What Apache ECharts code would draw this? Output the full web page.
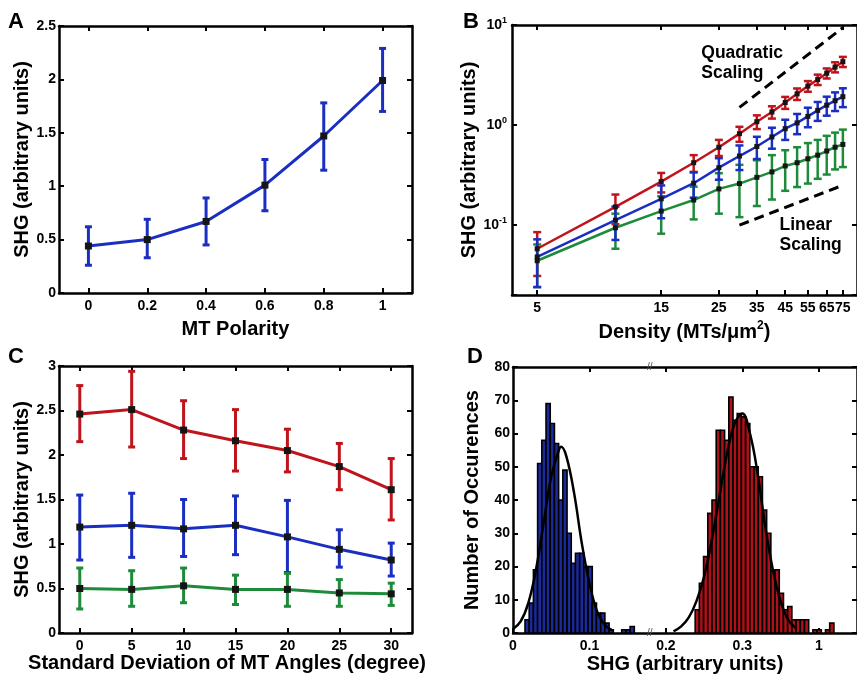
<!DOCTYPE html>
<html><head><meta charset="utf-8">
<script src="https://cdn.jsdelivr.net/npm/echarts@6/dist/echarts.min.js"></script>
<style>html,body{margin:0;padding:0;background:#fff}#c{width:857px;height:675px}</style>
</head><body><div id="c"></div><script>
// ---------- Panel A: SHG vs MT polarity ----------
const polarity = [0, 0.2, 0.4, 0.6, 0.8, 1];
const polarityShg = [0.44, 0.50, 0.67, 1.01, 1.47, 1.99];
const polarityLow = [0.26, 0.33, 0.45, 0.77, 1.15, 1.70];
const polarityHigh = [0.62, 0.69, 0.89, 1.25, 1.78, 2.29];
const polarityTicks = [0, 0.2, 0.4, 0.6, 0.8, 1];

// ---------- Panel B: SHG vs density (log-log) ----------
const density = [5, 10, 15, 20, 25, 30, 35, 40, 45, 50, 55, 60, 65, 70, 75];
const densityRed = [0.058, 0.152, 0.272, 0.42, 0.60, 0.82, 1.08, 1.35, 1.68, 2.05, 2.45, 2.85, 3.3, 3.8, 4.3];
const densityRedErr = [0.027, 0.05, 0.06, 0.08, 0.11, 0.14, 0.17, 0.19, 0.23, 0.27, 0.30, 0.34, 0.38, 0.44, 0.50];
const densityBlue = [0.048, 0.112, 0.183, 0.262, 0.375, 0.49, 0.61, 0.76, 0.92, 1.05, 1.22, 1.40, 1.58, 1.75, 1.92];
const densityBlueErr = [0.024, 0.041, 0.066, 0.074, 0.091, 0.135, 0.153, 0.18, 0.21, 0.24, 0.27, 0.30, 0.34, 0.37, 0.41];
const densityGreen = [0.044, 0.094, 0.138, 0.178, 0.23, 0.26, 0.30, 0.34, 0.39, 0.42, 0.46, 0.50, 0.55, 0.60, 0.64];
const densityGreenErr = [0.02, 0.036, 0.056, 0.064, 0.10, 0.14, 0.145, 0.16, 0.17, 0.18, 0.20, 0.21, 0.23, 0.24, 0.26];
const densityTicks = [5, 15, 25, 35, 45, 55, 65, 75];
const quadraticGuide = [[30, 1.5], [75, 9.4]];
const linearGuide = [[30, 0.1], [75, 0.25]];
const guideTexts = ['Quadratic\nScaling', 'Linear\nScaling'];
const guideTextAt = [[21.4, 6.6], [42.8, 0.126]];

// ---------- Panel C: SHG vs angle spread ----------
const angles = [0, 5, 10, 15, 20, 25, 30];
const angleRed = [2.46, 2.51, 2.28, 2.16, 2.05, 1.87, 1.61];
const angleRedLow = [2.15, 2.09, 1.96, 1.82, 1.81, 1.61, 1.27];
const angleRedHigh = [2.78, 2.94, 2.61, 2.51, 2.29, 2.13, 1.96];
const angleBlue = [1.19, 1.21, 1.17, 1.21, 1.08, 0.94, 0.82];
const angleBlueLow = [0.82, 0.85, 0.86, 0.88, 0.68, 0.74, 0.64];
const angleBlueHigh = [1.55, 1.57, 1.50, 1.54, 1.49, 1.16, 1.01];
const angleGreen = [0.50, 0.49, 0.53, 0.49, 0.49, 0.45, 0.44];
const angleGreenLow = [0.27, 0.30, 0.34, 0.32, 0.30, 0.30, 0.31];
const angleGreenHigh = [0.73, 0.70, 0.73, 0.65, 0.67, 0.60, 0.56];
const angleTicks = [0, 5, 10, 15, 20, 25, 30];

// ---------- Panel D: histograms ----------
const binWidth = 0.0055;
const blueHistStart = 0.0157;
const blueHistCounts = [4, 9, 19, 51, 58, 69, 63, 57, 40, 49, 30, 21, 24, 24, 20, 20, 9, 6, 6, 3, 1, 0, 0, 1, 1, 2];
const redHistStart = 0.2383;
const redHistCounts = [7, 15, 23, 36, 40, 61, 61, 58, 71, 64, 66, 65, 63, 50, 50, 47, 37, 30, 19, 19, 12, 7, 8, 4, 4, 4, 4, 0, 1, 1, 0, 1, 3];
const blueFitX = [0, 0.01, 0.02, 0.03, 0.04, 0.05, 0.06, 0.063, 0.07, 0.08, 0.09, 0.10, 0.11, 0.12, 0.13];
const blueFitY = [1.2, 3.5, 9, 19, 33, 47, 55, 56, 53, 42, 27, 15, 6.5, 2.5, 0.8];
const redFitX = [0.21, 0.22, 0.23, 0.24, 0.25, 0.26, 0.27, 0.28, 0.29, 0.30, 0.31, 0.32, 0.33, 0.34, 0.35, 0.36, 0.37];
const redFitY = [0.5, 2, 4.7, 9.6, 17, 28, 41, 54, 63, 66, 60, 48, 32, 19, 9.6, 4, 1.5];
const shgTicks = [0, 0.1, 0.2, 0.3, 0.4];
const shgTickLabels = ['0', '0.1', '0.2', '0.3', '1'];
const breakMarks = [[0.179, 0], [0.179, 80]];

// ---------- styling ----------
const FONT = "'Liberation Sans', Arial, Helvetica, sans-serif";
const RED = '#C0141C', BLUE = '#1A2EC2', GREEN = '#1E8B3A';
const HRED = '#B01018', HBLUE = '#1A2A9A';
const lbl = {fontFamily: FONT, fontWeight: 'bold', fontSize: 14, color: '#000'};
const nm = {fontFamily: FONT, fontWeight: 'bold', fontSize: 20, color: '#000'};

function axis(o) {
  const a = {
    gridIndex: o.grid, type: o.type || 'value', position: o.position,
    min: o.min, max: o.max, interval: o.interval,
    axisLine: {show: true, onZero: false, lineStyle: {color: '#000', width: 2.5}},
    axisTick: {show: true, inside: true, length: 5, lineStyle: {color: '#000', width: 2}},
    axisLabel: Object.assign({show: !!o.labels, margin: o.margin || 6}, lbl),
    splitLine: {show: false}, minorTick: {show: false}, minorSplitLine: {show: false}
  };
  if (o.ticks) { a.axisTick.customValues = o.ticks; a.axisLabel.customValues = o.ticks; }
  if (o.formatter) a.axisLabel.formatter = o.formatter;
  if (o.rich) a.axisLabel.rich = o.rich;
  if (o.name) {
    a.name = o.name; a.nameLocation = 'middle'; a.nameGap = o.nameGap;
    a.nameTextStyle = Object.assign({}, nm, o.nameExtra || {});
  }
  return a;
}

const supRich = {
  b: {fontFamily: FONT, fontWeight: 'bold', fontSize: 14, lineHeight: 18, color: '#000'},
  s: {fontFamily: FONT, fontWeight: 'bold', fontSize: 9, lineHeight: 10, verticalAlign: 'top', color: '#000'}
};
function powLabel(v) {
  const e = Math.log10(v);
  if (Math.abs(e - Math.round(e)) > 1e-6) return '';
  return '{b|10}{s|' + Math.round(e) + '}';
}

const xAxes = [
  axis({grid: 0, min: -0.1, max: 1.1, ticks: polarityTicks, labels: true, name: 'MT Polarity', nameGap: 26}),
  axis({grid: 0, position: 'top', min: -0.1, max: 1.1, ticks: polarityTicks}),
  axis({grid: 1, type: 'log', min: 4, max: 85, ticks: densityTicks, labels: true, name: 'Density (MTs/μm{s|2})', nameGap: 25,
        nameExtra: {lineHeight: 24, rich: {s: {fontFamily: FONT, fontWeight: 'bold', fontSize: 12, lineHeight: 12, verticalAlign: 'top', color: '#000'}}}}),
  axis({grid: 1, type: 'log', position: 'top', min: 4, max: 85, ticks: densityTicks}),
  axis({grid: 2, min: -2, max: 32, ticks: angleTicks, labels: true, name: 'Standard Deviation of MT Angles (degree)', nameGap: 20,
        nameExtra: {padding: [0, 17, 0, 0]}}),
  axis({grid: 2, position: 'top', min: -2, max: 32, ticks: angleTicks}),
  axis({grid: 3, min: 0, max: 0.45, ticks: shgTicks, labels: true, formatter: (v) => shgTickLabels[shgTicks.indexOf(v)] || '',
        name: 'SHG (arbitrary units)', nameGap: 20}),
  axis({grid: 3, position: 'top', min: 0, max: 0.45, ticks: [0.1, 0.2, 0.3, 0.4]})
];
const yAxes = [
  axis({grid: 0, min: 0, max: 2.5, interval: 0.5, labels: true, margin: 3, name: 'SHG (arbitrary units)', nameGap: 22}),
  axis({grid: 0, position: 'right', min: 0, max: 2.5, interval: 0.5}),
  axis({grid: 1, type: 'log', min: 0.02, max: 10, labels: true, margin: 5, formatter: powLabel, rich: supRich, name: 'SHG (arbitrary units)', nameGap: 28}),
  axis({grid: 1, type: 'log', position: 'right', min: 0.02, max: 10, formatter: powLabel}),
  axis({grid: 2, min: 0, max: 3, interval: 0.5, labels: true, margin: 3, name: 'SHG (arbitrary units)', nameGap: 22}),
  axis({grid: 2, position: 'right', min: 0, max: 3, interval: 0.5}),
  axis({grid: 3, min: 0, max: 80, interval: 10, labels: true, margin: 3, name: 'Number of Occurences', nameGap: 31}),
  axis({grid: 3, position: 'right', min: 0, max: 80, interval: 10})
];

function errorSeries(ai, xs, lo, hi, color, cap, lw) {
  return {
    type: 'custom', xAxisIndex: ai, yAxisIndex: ai, z: 2, silent: true, animation: false,
    data: xs.map((x, i) => [x, lo[i], hi[i]]),
    encode: {x: 0, y: [1, 2]},
    renderItem: (params, api) => {
      const x = api.value(0);
      const a = api.coord([x, api.value(1)]);
      const b = api.coord([x, api.value(2)]);
      const st = {stroke: color, lineWidth: lw};
      return {type: 'group', children: [
        {type: 'line', shape: {x1: a[0], y1: a[1], x2: b[0], y2: b[1]}, style: st},
        {type: 'line', shape: {x1: a[0] - cap, y1: a[1], x2: a[0] + cap, y2: a[1]}, style: st},
        {type: 'line', shape: {x1: b[0] - cap, y1: b[1], x2: b[0] + cap, y2: b[1]}, style: st}
      ]};
    }
  };
}
function meanSeries(ai, xs, ys, color, lw, sym) {
  return {
    type: 'line', xAxisIndex: ai, yAxisIndex: ai, z: 3, silent: true, animation: false,
    data: xs.map((x, i) => [x, ys[i]]),
    symbol: 'rect', symbolSize: sym, itemStyle: {color: '#151515'},
    lineStyle: {color: color, width: lw}
  };
}
function histSeries(start, counts, fill) {
  return {
    type: 'custom', xAxisIndex: 6, yAxisIndex: 6, z: 2, silent: true, animation: false,
    data: counts.map((c, i) => [start + i * binWidth, start + (i + 1) * binWidth, c]),
    encode: {x: [0, 1], y: 2},
    renderItem: (params, api) => {
      if (!api.value(2)) return null;
      const p0 = api.coord([api.value(0), 0]);
      const p1 = api.coord([api.value(1), api.value(2)]);
      return {type: 'rect', shape: {x: p0[0], y: p1[1], width: p1[0] - p0[0], height: p0[1] - p1[1]},
              style: {fill: fill, stroke: '#000', lineWidth: 1.6}};
    }
  };
}
function fitSeries(xs, ys) {
  return {
    type: 'line', xAxisIndex: 6, yAxisIndex: 6, z: 4, silent: true, animation: false,
    data: xs.map((x, i) => [x, ys[i]]), symbol: 'none', smooth: 0.4,
    lineStyle: {color: '#000', width: 2.5}
  };
}
function textSeries(ai, pts, texts, style) {
  return {
    type: 'custom', xAxisIndex: ai, yAxisIndex: ai, z: 6, silent: true, animation: false,
    data: pts, encode: {x: 0, y: 1},
    renderItem: (params, api) => {
      const p = api.coord([api.value(0), api.value(1)]);
      return {type: 'text', x: p[0], y: p[1],
              style: Object.assign({text: texts[params.dataIndex % texts.length], fill: '#000', fontFamily: FONT}, style)};
    }
  };
}

const series = [
  // A
  errorSeries(0, polarity, polarityLow, polarityHigh, BLUE, 3.5, 3),
  meanSeries(0, polarity, polarityShg, BLUE, 3, 7),
  // B
  errorSeries(2, density, densityRed.map((m, i) => m - densityRedErr[i]), densityRed.map((m, i) => m + densityRedErr[i]), RED, 4, 2.5),
  errorSeries(2, density, densityGreen.map((m, i) => m - densityGreenErr[i]), densityGreen.map((m, i) => m + densityGreenErr[i]), GREEN, 4, 2.5),
  errorSeries(2, density, densityBlue.map((m, i) => m - densityBlueErr[i]), densityBlue.map((m, i) => m + densityBlueErr[i]), BLUE, 4, 2.5),
  meanSeries(2, density, densityRed, RED, 2.5, 5),
  meanSeries(2, density, densityGreen, GREEN, 2.5, 5),
  meanSeries(2, density, densityBlue, BLUE, 2.5, 5),
  {type: 'line', xAxisIndex: 2, yAxisIndex: 2, z: 5, silent: true, animation: false, symbol: 'none',
   data: quadraticGuide, lineStyle: {color: '#000', width: 3, type: [10, 6]}},
  {type: 'line', xAxisIndex: 2, yAxisIndex: 2, z: 5, silent: true, animation: false, symbol: 'none',
   data: linearGuide, lineStyle: {color: '#000', width: 3, type: [10, 6]}},
  textSeries(2, guideTextAt, guideTexts, {fontSize: 17.5, fontWeight: 'bold', lineHeight: 20, align: 'left', verticalAlign: 'top'}),
  // C
  errorSeries(4, angles, angleRedLow, angleRedHigh, RED, 3.5, 3),
  errorSeries(4, angles, angleBlueLow, angleBlueHigh, BLUE, 3.5, 3),
  errorSeries(4, angles, angleGreenLow, angleGreenHigh, GREEN, 3.5, 3),
  meanSeries(4, angles, angleRed, RED, 3, 7),
  meanSeries(4, angles, angleBlue, BLUE, 3, 7),
  meanSeries(4, angles, angleGreen, GREEN, 3, 7),
  // D
  histSeries(blueHistStart, blueHistCounts, HBLUE),
  histSeries(redHistStart, redHistCounts, HRED),
  fitSeries(blueFitX, blueFitY),
  fitSeries(redFitX, redFitY),
  textSeries(6, breakMarks, ['//'], {fontSize: 10, fontWeight: 'normal', fill: '#555', align: 'center', verticalAlign: 'middle'})
];

const letter = (t, x, y) => ({type: 'text', left: x, top: y, style: {text: t, fontFamily: FONT, fontWeight: 'bold', fontSize: 22, fill: '#000'}});

const chart = echarts.init(document.getElementById('c'), null, {renderer: 'canvas'});
chart.setOption({
  animation: false,
  backgroundColor: '#fff',
  grid: [
    {left: 59, top: 26, width: 353, height: 267},
    {left: 512, top: 25, width: 348, height: 270},
    {left: 59, top: 366, width: 353, height: 267},
    {left: 513, top: 367, width: 352, height: 268}
  ],
  xAxis: xAxes,
  yAxis: yAxes,
  series: series,
  graphic: [letter('A', 8, 11), letter('B', 463, 11), letter('C', 8, 346), letter('D', 467, 346)]
});
</script></body></html>
